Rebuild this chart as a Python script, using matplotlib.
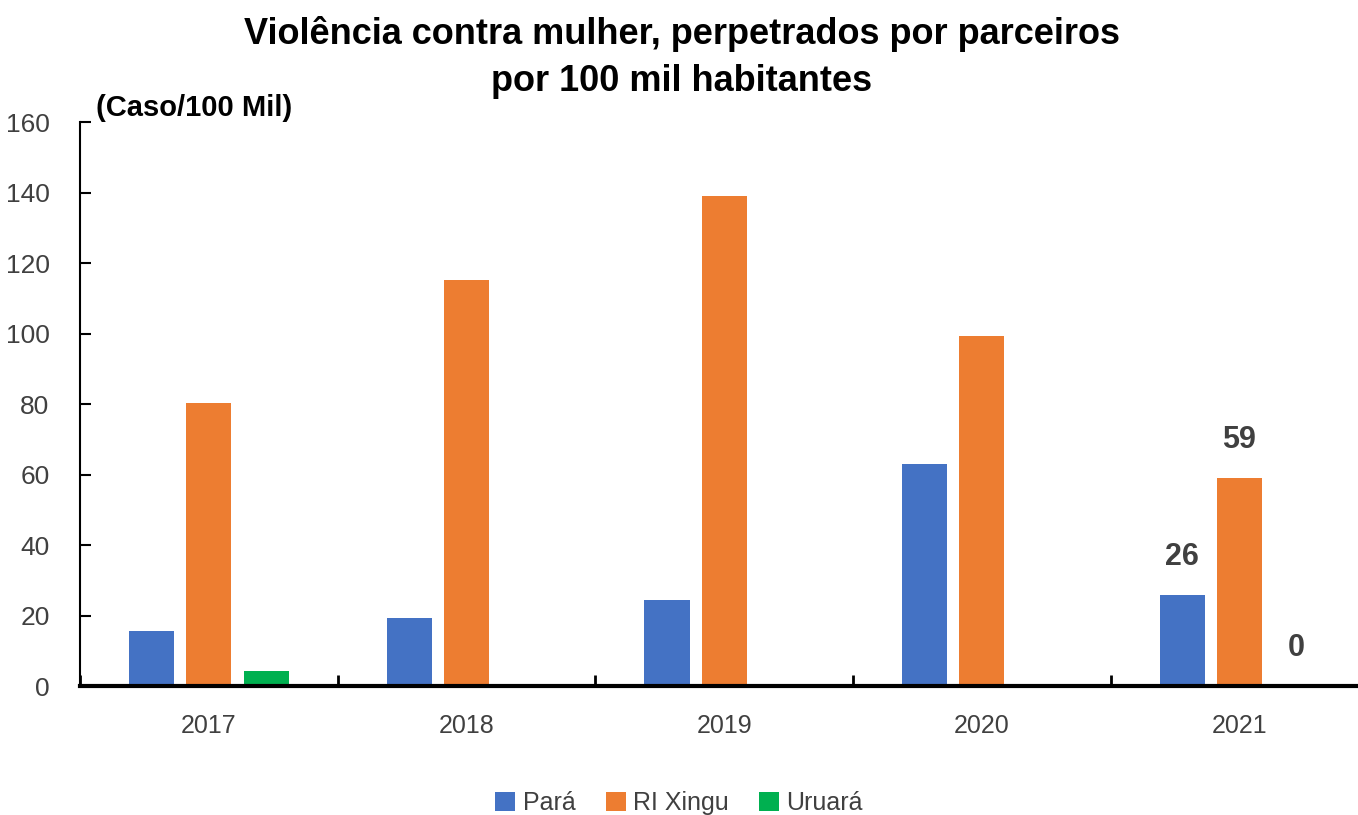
import matplotlib
matplotlib.use('Agg')
import matplotlib.pyplot as plt
import numpy as np

anos = ['2017', '2018', '2019', '2020', '2021']
para = [15.6, 19.3, 24.4, 63.0, 26.0]
ri_xingu = [80.3, 115.2, 139.0, 99.3, 59.0]
uruara = [4.3, 0, 0, 0, 0]
series_nomes = ['Pará', 'RI Xingu', 'Uruará']
rotulos_2021 = ['26', '59', '0']

plt.rcParams['font.family'] = ['Liberation Sans Narrow', 'Liberation Sans', 'DejaVu Sans']

fig = plt.figure(figsize=(13.58, 8.15), dpi=100)
ax = fig.add_axes([0.059, 0.158, 0.941, 0.692])

x = np.arange(len(anos))
w = 0.175
off = 0.222
cores = ['#4472C4', '#ED7D31', '#00B050']
grupos = [para, ri_xingu, uruara]
barras = []
for i, (vals, cor, nome) in enumerate(zip(grupos, cores, series_nomes)):
    b = ax.bar(x + (i - 1) * off, vals, w, color=cor, label=nome)
    barras.append(b)

# rótulos só para 2021
for i, (b, txt) in enumerate(zip(barras, rotulos_2021)):
    r = b[-1]
    ax.text(r.get_x() + r.get_width() / 2, r.get_height() + 6.5, txt,
            ha='center', va='bottom', fontsize=22, fontweight='bold', color='#404040')

ax.set_xlim(-0.5, 4.46)
ax.set_ylim(0, 160)
ax.set_yticks(range(0, 161, 20))
ax.set_xticks(np.arange(-0.5, 4.5, 1), minor=True)
ax.set_xticks(x)
ax.set_xticklabels(anos)
ax.tick_params(axis='x', which='major', length=0, pad=20, labelsize=18, labelcolor='#404040')
ax.tick_params(axis='x', which='minor', direction='in', length=8, width=2)
ax.tick_params(axis='y', direction='in', length=8, width=1.5, pad=22, labelsize=19, labelcolor='#404040')

for s in ['top', 'right']:
    ax.spines[s].set_visible(False)
ax.spines['left'].set_linewidth(1.5)
ax.spines['bottom'].set_linewidth(3)

fig.text(0.071, 0.868, '(Caso/100 Mil)', fontsize=21, fontweight='bold', ha='left', va='center')
fig.suptitle('Violência contra mulher, perpetrados por parceiros\npor 100 mil habitantes',
             x=0.502, y=0.98, fontsize=26, fontweight='bold', linespacing=1.45)

fig.legend(loc='lower center', bbox_to_anchor=(0.5, -0.028), ncol=3, frameon=False,
           fontsize=18, handlelength=0.8, handleheight=0.8, handletextpad=0.3,
           columnspacing=1.2, labelcolor='#404040')

fig.savefig('out.png', dpi=100)
